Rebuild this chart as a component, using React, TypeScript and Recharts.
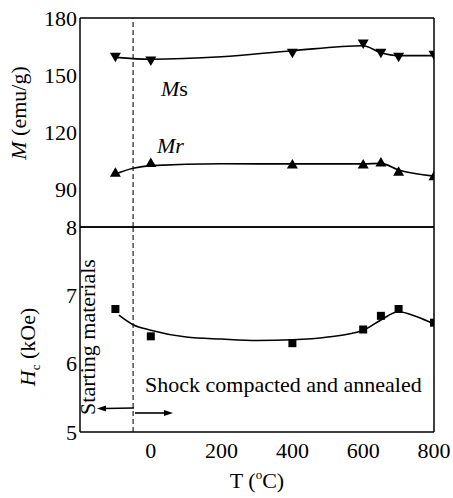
import React from 'react';
import { ComposedChart, Line, Scatter, XAxis, YAxis, ReferenceLine } from 'recharts';

const FONT = "Liberation Serif, Tinos, DejaVu Serif, Times New Roman, serif";

// Measured points
const temps = [-100, 0, 400, 600, 650, 700, 800];
const msValues = [159.3, 157.4, 161.4, 166.3, 161.4, 159.3, 160.4];
const mrValues = [98.8, 104.0, 103.2, 103.2, 104.2, 99.3, 97.0];
const hcValues = [6.8, 6.4, 6.3, 6.5, 6.7, 6.8, 6.6];

// Fitted guide curves
const msFitT = [-100, 0, 200, 400, 600, 650, 700, 800];
const msFitValues = [159.3, 158.3, 159.6, 162.8, 165.4, 161.7, 160.2, 160.2];
const mrFitT = [-100, -50, 0, 200, 400, 600, 650, 700, 800];
const mrFitValues = [97.9, 100.9, 102.3, 103.3, 103.2, 103.2, 103.5, 100.0, 96.8];
const hcFitT = [-90, -50, 0, 100, 200, 300, 400, 500, 600, 650, 700, 750, 800];
const hcFitValues = [6.71, 6.57, 6.49, 6.39, 6.36, 6.34, 6.35, 6.39, 6.49, 6.64, 6.76, 6.69, 6.58];

// Axes
const xDomain = [-200, 800];
const xMinorTicks = [-100, 0, 100, 200, 300, 400, 500, 600, 700, 800];
const xLabelTicks = [0, 200, 400, 600, 800];
const mDomain = [70, 180];
const mTicks = [90, 120, 150, 180];
const mMinorTicks = [75, 90, 105, 120, 135, 150, 165, 180];
const hcDomain = [5, 8];
const hcTicks = [5, 6, 7, 8];
const hcMinorTicks = [5, 5.5, 6, 6.5, 7, 7.5, 8];
const boundaryT = -50;

const zip = (ts: number[], vs: number[]) => ts.map((t, i) => ({ t, v: vs[i] }));
const msData = zip(temps, msValues);
const mrData = zip(temps, mrValues);
const hcData = zip(temps, hcValues);
const msFit = zip(msFitT, msFitValues);
const mrFit = zip(mrFitT, mrFitValues);
const hcFit = zip(hcFitT, hcFitValues);

const DownTri = (p: any) => (
  <path d={`M${p.cx - 5.5},${p.cy - 4.5} L${p.cx + 5.5},${p.cy - 4.5} L${p.cx},${p.cy + 5} Z`} fill="#000" />
);
const UpTri = (p: any) => (
  <path d={`M${p.cx - 5.5},${p.cy + 4.5} L${p.cx + 5.5},${p.cy + 4.5} L${p.cx},${p.cy - 5} Z`} fill="#000" />
);
const Square = (p: any) => <rect x={p.cx - 4} y={p.cy - 4} width={8} height={8} fill="#000" />;

const W = 453;
const H = 498;
const axisLine = { stroke: '#000', strokeWidth: 1.5 };
const tickLine = { stroke: '#000', strokeWidth: 1.2 };
const tickStyle = { fill: '#000', fontSize: 22, fontFamily: FONT };

export default function App() {
  return (
    <div style={{ position: 'absolute', left: 0, top: 0, width: W, height: H, background: '#fff', fontFamily: FONT }}>
      {/* Top panel: magnetization */}
      <div style={{ position: 'absolute', left: 0, top: 0 }}>
        <ComposedChart width={W} height={H} margin={{ top: 18, right: 19, left: 0, bottom: 271 }}>
          <XAxis xAxisId="b" type="number" dataKey="t" domain={xDomain} orientation="bottom" mirror
            ticks={xMinorTicks} interval={0} tick={false} tickSize={5} axisLine={axisLine} tickLine={tickLine} allowDataOverflow />
          <XAxis xAxisId="tp" type="number" dataKey="t" domain={xDomain} orientation="top" mirror
            ticks={xMinorTicks} interval={0} tick={false} tickSize={5} axisLine={axisLine} tickLine={tickLine} allowDataOverflow />
          <YAxis yAxisId="l" type="number" dataKey="v" domain={mDomain} width={80} ticks={mTicks} interval={0}
            tick={tickStyle} tickLine={false} tickSize={0} tickMargin={3} axisLine={axisLine} allowDataOverflow />
          <YAxis yAxisId="lm" type="number" domain={mDomain} orientation="left" mirror ticks={mMinorTicks} interval={0}
            tick={false} tickSize={5} tickLine={tickLine} axisLine={false} allowDataOverflow />
          <YAxis yAxisId="r" type="number" domain={mDomain} orientation="right" mirror ticks={mMinorTicks} interval={0}
            tick={false} tickSize={5} tickLine={tickLine} axisLine={axisLine} allowDataOverflow />
          <ReferenceLine xAxisId="b" yAxisId="l" x={boundaryT} stroke="#222" strokeWidth={1.2} strokeDasharray="5 3" />
          <Line xAxisId="b" yAxisId="l" data={msFit} dataKey="v" type="monotone" stroke="#000" strokeWidth={1.6} dot={false} isAnimationActive={false} />
          <Line xAxisId="b" yAxisId="l" data={mrFit} dataKey="v" type="monotone" stroke="#000" strokeWidth={1.6} dot={false} isAnimationActive={false} />
          <Scatter xAxisId="b" yAxisId="l" data={msData} dataKey="v" shape={DownTri} isAnimationActive={false} />
          <Scatter xAxisId="b" yAxisId="l" data={mrData} dataKey="v" shape={UpTri} isAnimationActive={false} />
        </ComposedChart>
      </div>
      {/* Bottom panel: coercivity */}
      <div style={{ position: 'absolute', left: 0, top: 0 }}>
        <ComposedChart width={W} height={H} margin={{ top: 227, right: 19, left: 0, bottom: 26 }}>
          <XAxis xAxisId="lab" type="number" dataKey="t" domain={xDomain} orientation="bottom" height={40}
            ticks={xLabelTicks} interval={0} tick={tickStyle} tickLine={false} tickSize={0} tickMargin={10} axisLine={axisLine} allowDataOverflow />
          <XAxis xAxisId="bm" type="number" dataKey="t" domain={xDomain} orientation="bottom" mirror
            ticks={xMinorTicks} interval={0} tick={false} tickSize={5} axisLine={false} tickLine={tickLine} allowDataOverflow />
          <XAxis xAxisId="tm" type="number" dataKey="t" domain={xDomain} orientation="top" mirror
            ticks={xMinorTicks} interval={0} tick={false} tickSize={5} axisLine={axisLine} tickLine={tickLine} allowDataOverflow />
          <YAxis yAxisId="l" type="number" dataKey="v" domain={hcDomain} width={80} ticks={hcTicks} interval={0}
            tick={tickStyle} tickLine={false} tickSize={0} tickMargin={3} axisLine={axisLine} allowDataOverflow />
          <YAxis yAxisId="lm" type="number" domain={hcDomain} orientation="left" mirror ticks={hcMinorTicks} interval={0}
            tick={false} tickSize={5} tickLine={tickLine} axisLine={false} allowDataOverflow />
          <YAxis yAxisId="r" type="number" domain={hcDomain} orientation="right" mirror ticks={hcMinorTicks} interval={0}
            tick={false} tickSize={5} tickLine={tickLine} axisLine={axisLine} allowDataOverflow />
          <ReferenceLine xAxisId="lab" yAxisId="l" x={boundaryT} stroke="#222" strokeWidth={1.2} strokeDasharray="5 3" />
          <Line xAxisId="lab" yAxisId="l" data={hcFit} dataKey="v" type="monotone" stroke="#000" strokeWidth={1.6} dot={false} isAnimationActive={false} />
          <Scatter xAxisId="lab" yAxisId="l" data={hcData} dataKey="v" shape={Square} isAnimationActive={false} />
        </ComposedChart>
      </div>
      {/* Annotations */}
      <svg width={W} height={H} style={{ position: 'absolute', left: 0, top: 0, pointerEvents: 'none', fontFamily: FONT }}
        fill="#000">
        <text transform="translate(26,113) rotate(-90)" textAnchor="middle" fontSize={22}>
          <tspan fontStyle="italic">M</tspan> (emu/g)
        </text>
        <text transform="translate(35,347) rotate(-90)" textAnchor="middle" fontSize={22}>
          <tspan fontStyle="italic">H</tspan>
          <tspan fontSize={13} dy={5}>c</tspan>
          <tspan dy={-5}> (kOe)</tspan>
        </text>
        <text x={257} y={488} textAnchor="middle" fontSize={22}>
          T (<tspan fontSize={13} dy={-9}>o</tspan><tspan dy={9}>C)</tspan>
        </text>
        <text x={161} y={96} fontSize={22}>
          <tspan fontStyle="italic">M</tspan>s
        </text>
        <text x={157} y={153} fontSize={22} fontStyle="italic">Mr</text>
        <text x={145} y={392} fontSize={22}>Shock compacted and annealed</text>
        <text transform="translate(95,337) rotate(-90)" textAnchor="middle" fontSize={22}>Starting  materials</text>
        <line x1={134} y1={408} x2={104} y2={408.5} stroke="#000" strokeWidth={1.6} />
        <path d="M97,408.5 L106,405.5 L106,411.5 Z" fill="#000" />
        <line x1={135} y1={413} x2={165} y2={413} stroke="#000" strokeWidth={1.6} />
        <path d="M173,413 L164,410 L164,416 Z" fill="#000" />
      </svg>
    </div>
  );
}
